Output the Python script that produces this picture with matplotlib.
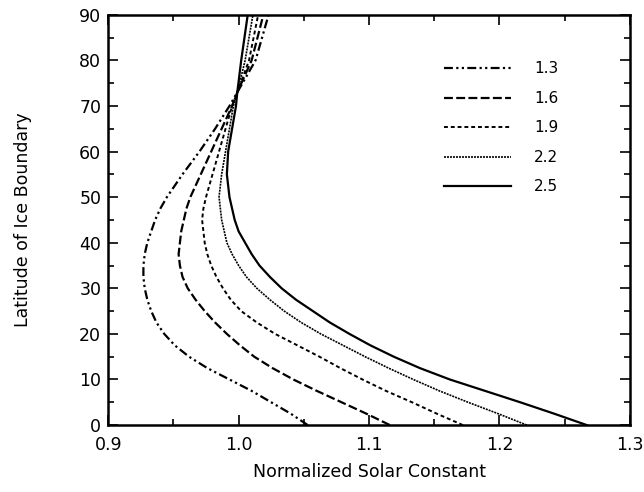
import matplotlib
matplotlib.use("Agg")
import matplotlib.pyplot as plt
from matplotlib.ticker import MultipleLocator

plt.rcParams['font.family'] = ['DejaVu Sans']

# latitude of the ice boundary (deg) where each curve was read
lat = [0, 2.5, 5, 7.5, 10, 12.5, 15, 17.5, 20, 22.5, 25, 27.5, 30, 32.5,
       35, 37.5, 40, 42.5, 45, 47.5, 50, 55, 60, 65, 70, 73, 80, 90]

# normalized solar constant for each diffusion value
s_13 = [1.053, 1.040, 1.025, 1.010, 0.993, 0.976, 0.962, 0.951, 0.943, 0.937,
        0.933, 0.930, 0.928, 0.927, 0.927, 0.928, 0.930, 0.933, 0.936, 0.940,
        0.945, 0.957, 0.970, 0.982, 0.993, 0.999, 1.013, 1.023]
s_16 = [1.116, 1.098, 1.079, 1.060, 1.042, 1.026, 1.012, 1.001, 0.991, 0.982,
        0.974, 0.967, 0.961, 0.957, 0.955, 0.954, 0.955, 0.956, 0.958, 0.960,
        0.963, 0.971, 0.979, 0.987, 0.995, 0.999, 1.010, 1.019]
s_19 = [1.172, 1.152, 1.133, 1.113, 1.095, 1.078, 1.062, 1.045, 1.028, 1.014,
        1.002, 0.994, 0.988, 0.983, 0.979, 0.976, 0.974, 0.973, 0.972, 0.973,
        0.975, 0.980, 0.985, 0.990, 0.995, 0.999, 1.008, 1.015]
s_22 = [1.221, 1.199, 1.176, 1.154, 1.134, 1.115, 1.097, 1.080, 1.063, 1.048,
        1.035, 1.024, 1.014, 1.006, 1.000, 0.995, 0.991, 0.989, 0.987, 0.986,
        0.985, 0.987, 0.990, 0.993, 0.996, 0.999, 1.005, 1.011]
s_25 = [1.267, 1.242, 1.216, 1.189, 1.162, 1.139, 1.119, 1.101, 1.085, 1.070,
        1.057, 1.044, 1.033, 1.024, 1.016, 1.010, 1.005, 1.000, 0.997, 0.995,
        0.993, 0.991, 0.992, 0.995, 0.998, 0.999, 1.002, 1.007]

labels = ["1.3", "1.6", "1.9", "2.2", "2.5"]
series = [s_13, s_16, s_19, s_22, s_25]

styles = [
    dict(linestyle=(0, (4, 1.5, 1, 1.5, 1, 1.5)), linewidth=1.6),
    dict(linestyle=(0, (4, 1.5)), linewidth=1.6),
    dict(linestyle=(0, (2, 1.5)), linewidth=1.4),
    dict(linestyle=(0, (1.2, 0.6)), linewidth=1.2),
    dict(linestyle="-", linewidth=1.6),
]

fig = plt.figure(figsize=(6.44, 4.92), dpi=100)
ax = fig.add_axes([0.168, 0.136, 0.81, 0.834])

for s, lab, st in zip(series, labels, styles):
    ax.plot(s, lat, color="black", label=lab, **st)

ax.set_xlim(0.9, 1.3)
ax.set_ylim(0, 90)
ax.xaxis.set_minor_locator(MultipleLocator(0.05))
ax.yaxis.set_major_locator(MultipleLocator(10))
ax.yaxis.set_minor_locator(MultipleLocator(5))
ax.set_xticks([0.9, 1.0, 1.1, 1.2, 1.3])
ax.set_xticklabels(["0.9", "1.0", "1.1", "1.2", "1.3"])

ax.tick_params(which="both", direction="in", top=True, right=True,
               labelsize=12.5, width=1.2)
ax.tick_params(which="major", length=7, pad=5)
ax.tick_params(axis="x", which="major", pad=8)
ax.tick_params(which="minor", length=4)
for sp in ax.spines.values():
    sp.set_linewidth(1.8)

ax.set_xlabel("Normalized Solar Constant", fontsize=12.5, labelpad=6)
ax.set_ylabel("Latitude of Ice Boundary", fontsize=12.5, labelpad=34)

ax.legend(loc="upper left", bbox_to_anchor=(0.617, 0.92), frameon=False,
          fontsize=11, handlelength=4.4, handletextpad=1.5,
          labelspacing=0.95)

fig.savefig("out.png", dpi=100)
